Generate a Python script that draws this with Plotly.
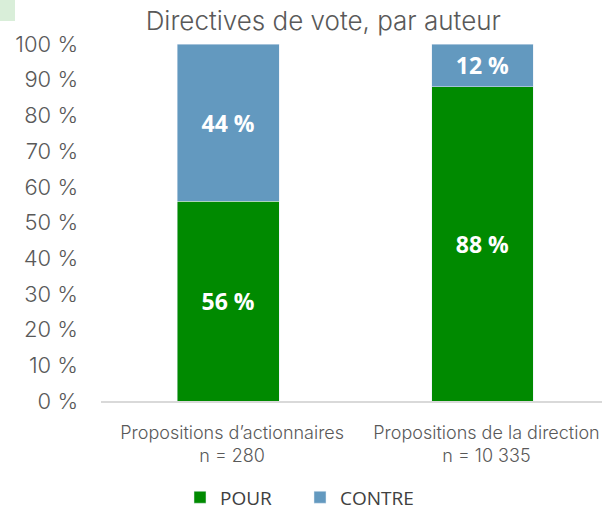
import plotly.graph_objects as go

categories = ["Propositions d’actionnaires<br>n = 280", "Propositions de la direction<br>n = 10 335"]
pour = [56, 88]
contre = [44, 12]
y_ticks = [0, 10, 20, 30, 40, 50, 60, 70, 80, 90, 100]
y_ticktext = [f"{v} %" for v in y_ticks]

GREEN = "#008A00"
BLUE = "#6399BF"
LIGHT = "Inter"

label_font = dict(family="Open Sans", size=23, color="white", weight="bold")

fig = go.Figure()
fig.add_trace(go.Bar(
    x=categories, y=pour, name="POUR", marker_color=GREEN,
    texttemplate="%{y} %", textposition="inside", insidetextanchor="middle",
    textangle=0, constraintext="none", textfont=label_font,
))
fig.add_trace(go.Bar(
    x=categories, y=contre, name="CONTRE", marker_color=BLUE,
    texttemplate="%{y} %", textposition="inside", insidetextanchor="middle",
    textangle=0, constraintext="none", textfont=label_font,
))

fig.update_layout(
    width=602, height=510,
    margin=dict(l=101, r=0, t=44, b=109, autoexpand=False),
    barmode="stack", bargap=0.6,
    plot_bgcolor="white", paper_bgcolor="white",
    title=dict(text="Directives de vote, par auteur", x=0.537, xanchor="center",
               y=1 - 21 / 510, yanchor="middle",
               font=dict(family=LIGHT, size=26, color="#595959", weight=300)),
    legend=dict(orientation="h", x=(180 - 101) / 501, xanchor="left", y=-0.27, yanchor="middle",
                font=dict(family="Open Sans", size=19, color="#404040"),
                itemwidth=30, entrywidth=75, traceorder="normal"),
    xaxis=dict(range=[-0.5, 1.47], showline=True, linecolor="#D9D9D9", linewidth=2,
               ticks="", showgrid=False, automargin=False, ticklabelstandoff=14,
               ticklabelshift=4,
               tickfont=dict(family=LIGHT, size=18, color="#595959", weight=300)),
    yaxis=dict(range=[0, 100], tickvals=y_ticks, ticktext=y_ticktext, showgrid=False,
               zeroline=False, showline=False, ticklabelstandoff=22, automargin=False,
               tickfont=dict(family=LIGHT, size=22, color="#595959", weight=300)),
    shapes=[dict(type="rect", xref="paper", yref="paper",
                 x0=-101 / 501, x1=(15 - 101) / 501, y0=(401 - 21) / 357, y1=401 / 357,
                 fillcolor="#D9EED9", line_width=0, layer="below")],
)

fig.write_html("out.html")
